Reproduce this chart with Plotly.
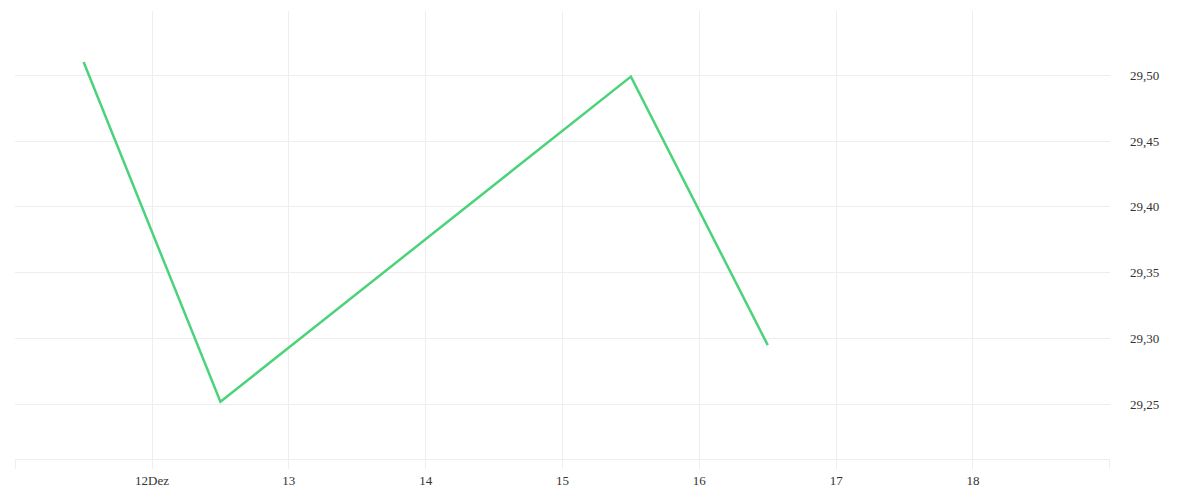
import plotly.graph_objects as go

dates = ["2023-12-11 12:00", "2023-12-12 12:00", "2023-12-15 12:00", "2023-12-16 12:00"]
values = [29.51, 29.252, 29.499, 29.295]
tick_dates = ["2023-12-11", "2023-12-12", "2023-12-13", "2023-12-14", "2023-12-15",
              "2023-12-16", "2023-12-17", "2023-12-18", "2023-12-19"]
tick_labels = ["", "12Dez", "13", "14", "15", "16", "17", "18", ""]
y_ticks = [29.25, 29.30, 29.35, 29.40, 29.45, 29.50]

fig = go.Figure()
fig.add_trace(go.Scatter(x=dates, y=values, mode="lines",
                         line=dict(color="#4cd37a", width=2.5), showlegend=False))

fig.update_layout(
    width=1200, height=500,
    margin=dict(l=7, r=98, t=3, b=49),
    paper_bgcolor="white", plot_bgcolor="white",
    separators=",.",
    font=dict(family="Liberation Serif", size=13, color="#333333"),
    xaxis=dict(
        range=["2023-12-10 23:58", "2023-12-19 00:02"],
        tickvals=tick_dates, ticktext=tick_labels,
        showgrid=True, gridcolor="#eeeeee", gridwidth=1,
        ticks="outside", ticklen=9, tickcolor="#eeeeee",
        showline=True, linecolor="#eeeeee", linewidth=1,
        zeroline=False,
    ),
    yaxis=dict(
        side="right", range=[29.2085, 29.5488],
        tickvals=y_ticks, tickformat=".2f",
        showgrid=True, gridcolor="#eeeeee", gridwidth=1,
        zeroline=False, ticks="", ticklabelstandoff=19,
    ),
)

fig.write_html("out.html")
